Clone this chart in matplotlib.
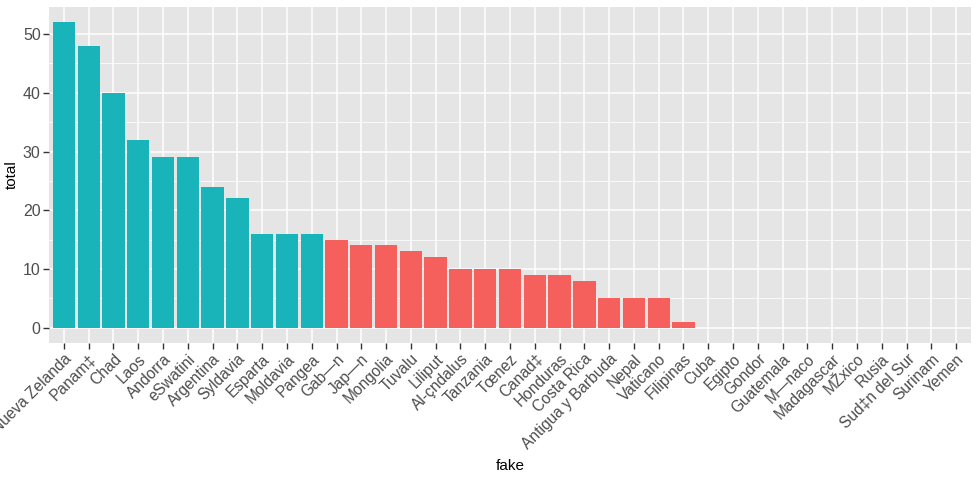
import matplotlib
matplotlib.use("Agg")
import matplotlib.pyplot as plt
from matplotlib.ticker import MultipleLocator

categories = ["Nueva Zelanda", "Panam‡", "Chad", "Laos", "Andorra", "eSwatini",
              "Argentina", "Syldavia", "Esparta", "Moldavia", "Pangea",
              "Gab—n", "Jap—n", "Mongolia", "Tuvalu", "Liliput", "Al-çndalus",
              "Tanzania", "Tœnez", "Canad‡", "Honduras", "Costa Rica",
              "Antigua y Barbuda", "Nepal", "Vaticano", "Filipinas",
              "Cuba", "Egipto", "Gondor", "Guatemala", "M—naco", "Madagascar",
              "MŽxico", "Rusia", "Sud‡n del Sur", "Surinam", "Yemen"]
totals = [52, 48, 40, 32, 29, 29, 24, 22, 16, 16, 16,
          15, 14, 14, 13, 12, 10, 10, 10, 9, 9, 8, 5, 5, 5, 1,
          0, 0, 0, 0, 0, 0, 0, 0, 0, 0, 0]
groups = ["A"] * 11 + ["B"] * 26
group_colors = {"A": "#19B4B9", "B": "#F5605C"}

plt.rcParams['font.family'] = ['Liberation Sans', 'DejaVu Sans']

fig = plt.figure(figsize=(9.79, 4.78), dpi=100)
ax = fig.add_axes([49/979, 1-343/478, (971-49)/979, (343-7)/478])
ax.set_facecolor("#E5E5E5")

x = list(range(1, len(categories) + 1))
ax.bar(x, totals, width=0.9, color=[group_colors[g] for g in groups], zorder=3)

ax.set_xlim(0.4, len(categories) + 0.6)
ymax = max(totals)
ax.set_ylim(-ymax * 0.05, ymax * 1.05)
ax.yaxis.set_major_locator(MultipleLocator(10))
ax.yaxis.set_minor_locator(MultipleLocator(5))
ax.set_xticks(x)
ax.set_xticklabels(categories, rotation=45, ha="right", rotation_mode="anchor",
                   fontsize=11.2, color="#4D4D4D")
for lbl in ax.get_yticklabels():
    lbl.set_fontsize(11.5)
    lbl.set_color("#4D4D4D")
ax.tick_params(axis="both", which="major", length=4, width=1, color="#333333", pad=2)
ax.tick_params(axis="y", which="minor", length=0)
ax.grid(which="major", color="white", linewidth=1.1, zorder=0)
ax.grid(which="minor", axis="y", color="white", linewidth=0.55, zorder=0)
ax.set_axisbelow(True)
for s in ax.spines.values():
    s.set_visible(False)

ax.set_xlabel("fake", fontsize=11, color="black", labelpad=5)
ax.set_ylabel("total", fontsize=11, color="black", labelpad=3)

fig.savefig("out.png", dpi=100)
